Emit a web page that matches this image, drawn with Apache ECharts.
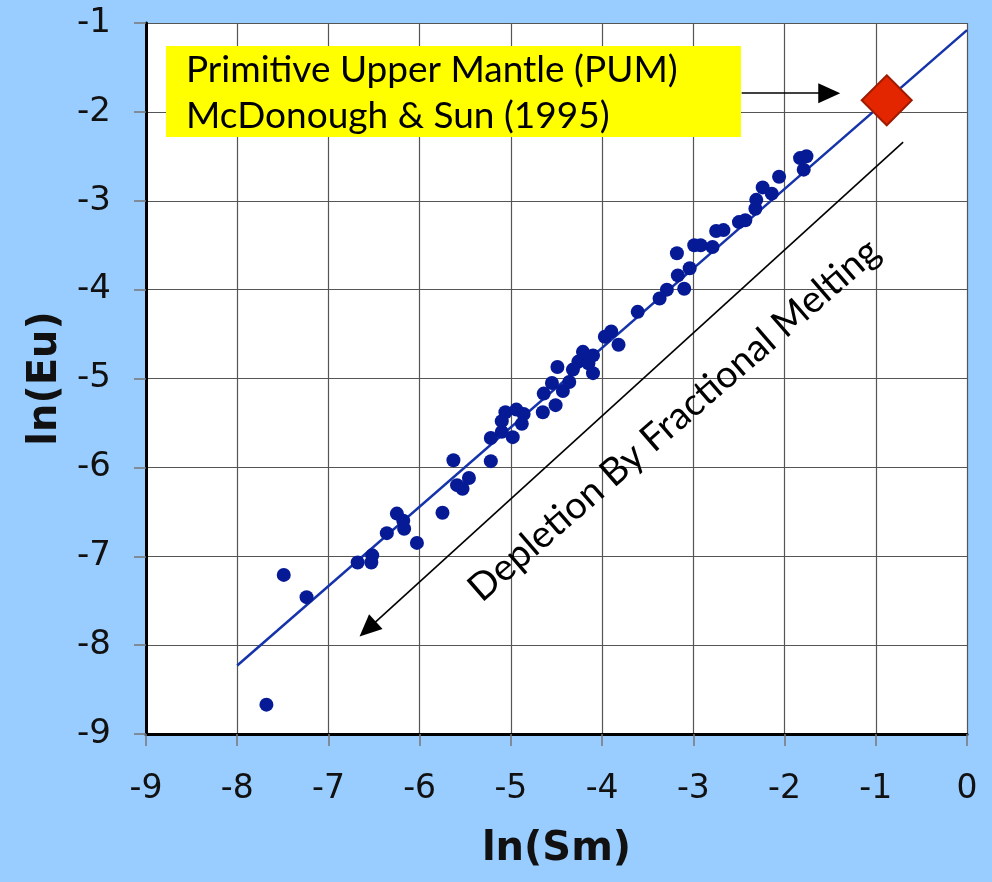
<!DOCTYPE html>
<html>
<head>
<meta charset="utf-8">
<title>ln(Eu) vs ln(Sm)</title>
<script src="https://cdn.jsdelivr.net/npm/echarts@6/dist/echarts.min.js"></script>
<style>
  html, body { margin: 0; padding: 0; background: #99CCFF; }
  #main { width: 992px; height: 882px; }
</style>
</head>
<body>
<div id="main"></div>
<script>
// sample values
var smVals = [-7.68, -7.49, -7.24, -6.68, -6.53, -6.52, -6.36, -6.25, -6.18, -6.17,
  -6.03, -5.75, -5.63, -5.59, -5.53, -5.46, -5.22, -5.22, -5.10, -5.06,
  -4.94, -4.86, -4.88, -4.98, -5.10, -4.65, -4.64, -4.51, -4.55, -4.49,
  -4.43, -4.36, -4.32, -4.26, -4.21, -4.15, -4.10, -4.10, -3.97, -3.90,
  -3.82, -3.61, -3.37, -3.29, -3.17, -3.10, -3.04, -3.18, -2.99, -2.92,
  -2.79, -2.75, -2.67, -2.50, -2.43, -2.32, -2.31, -2.24, -2.14, -2.06,
  -1.83, -1.76, -1.79];
var euVals = [-8.67, -7.21, -7.46, -7.07, -7.07, -6.99, -6.74, -6.52, -6.60, -6.69,
  -6.85, -6.51, -5.92, -6.20, -6.24, -6.12, -5.93, -5.67, -5.60, -5.38,
  -5.35, -5.40, -5.51, -5.66, -5.48, -5.38, -5.17, -5.30, -5.05, -4.87,
  -5.14, -5.04, -4.90, -4.81, -4.70, -4.83, -4.74, -4.94, -4.53, -4.47,
  -4.62, -4.25, -4.10, -4.00, -3.84, -3.99, -3.76, -3.59, -3.50, -3.50,
  -3.52, -3.34, -3.33, -3.24, -3.22, -3.09, -2.99, -2.85, -2.92, -2.73,
  -2.52, -2.50, -2.65];
// trend line ends
var fitSm = [-8, 0];
var fitEu = [-8.23, -1.08];
// primitive upper mantle
var pumSm = [-0.88];
var pumEu = [-1.87];
// arrows (start, end) in data units
var pumArrowSm = [-2.47, -1.51];
var pumArrowEu = [-1.79, -1.79];
var meltArrowSm = [-0.70, -6.57];
var meltArrowEu = [-2.34, -7.82];

var xTicks = [-9, 0];
var yTicks = [-9, -1];

function zip(a, b) {
  return a.map(function (v, i) { return [v, b[i]]; });
}

var labelFont = '"DejaVu Sans", Verdana, sans-serif';
var noteFont = 'Lato, "Open Sans", sans-serif';

var myChart = echarts.init(document.getElementById('main'));

var option = {
  backgroundColor: '#99CCFF',
  animation: false,
  grid: {
    left: 146,
    right: 25,
    top: 23,
    bottom: 148,
    show: true,
    backgroundColor: '#fff',
    borderWidth: 0
  },
  xAxis: {
    type: 'value',
    min: xTicks[0],
    max: xTicks[1],
    interval: 1,
    name: 'ln(Sm)',
    nameLocation: 'middle',
    nameGap: 96,
    nameTextStyle: { fontFamily: labelFont, fontSize: 40, fontWeight: 'bold', color: '#111' },
    axisLine: { onZero: false, lineStyle: { color: '#000', width: 3 } },
    axisTick: { show: true, inside: false, length: 12, lineStyle: { color: '#777', width: 1.5 } },
    splitLine: { show: true, lineStyle: { color: '#555', width: 1.2 } },
    axisLabel: { fontFamily: labelFont, fontSize: 33, color: '#111', margin: 39 }
  },
  yAxis: {
    type: 'value',
    min: yTicks[0],
    max: yTicks[1],
    interval: 1,
    name: 'ln(Eu)',
    nameLocation: 'middle',
    nameRotate: 90,
    nameGap: 80,
    nameTextStyle: { fontFamily: labelFont, fontSize: 40, fontWeight: 'bold', color: '#111' },
    axisLine: { onZero: false, lineStyle: { color: '#000', width: 3 } },
    axisTick: { show: true, inside: false, length: 12, lineStyle: { color: '#777', width: 1.5 } },
    splitLine: { show: true, lineStyle: { color: '#555', width: 1.2 } },
    axisLabel: { fontFamily: labelFont, fontSize: 34, color: '#111', margin: 35 }
  },
  series: [
    {
      name: 'trend',
      type: 'line',
      data: zip(fitSm, fitEu),
      symbol: 'none',
      silent: true,
      lineStyle: { color: '#1533AA', width: 2.5 },
      z: 2,
      markLine: {
        silent: true,
        symbol: ['none', 'triangle'],
        symbolSize: [20, 22],
        label: { show: false },
        lineStyle: { color: '#000', width: 1.6, type: 'solid' },
        data: [
          [{ coord: [pumArrowSm[0], pumArrowEu[0]] }, { coord: [pumArrowSm[1], pumArrowEu[1]] }],
          [{ coord: [meltArrowSm[0], meltArrowEu[0]] }, { coord: [meltArrowSm[1], meltArrowEu[1]] }]
        ]
      }
    },
    {
      name: 'samples',
      type: 'scatter',
      data: zip(smVals, euVals),
      symbolSize: 14,
      itemStyle: { color: '#061A96', opacity: 1 },
      z: 3
    },
    {
      name: 'PUM',
      type: 'scatter',
      data: zip(pumSm, pumEu),
      symbol: 'diamond',
      symbolSize: [50, 50],
      itemStyle: { color: '#E32600', borderColor: '#A01A00', borderWidth: 2, opacity: 1 },
      z: 4
    }
  ],
  graphic: [
    {
      type: 'rect',
      shape: { x: 166, y: 46, width: 575, height: 91 },
      style: { fill: '#FFFF00' },
      z: 10
    },
    {
      type: 'text',
      x: 186,
      y: 70,
      style: {
        text: 'Primitive Upper Mantle (PUM)',
        fontFamily: noteFont,
        fontSize: 37,
        fill: '#000',
        verticalAlign: 'middle'
      },
      z: 11
    },
    {
      type: 'text',
      x: 186,
      y: 116,
      style: {
        text: 'McDonough & Sun (1995)',
        fontFamily: noteFont,
        fontSize: 37,
        fill: '#000',
        verticalAlign: 'middle'
      },
      z: 11
    },
    {
      type: 'text',
      x: 674,
      y: 420,
      rotation: 41 * Math.PI / 180,
      style: {
        text: 'Depletion By Fractional Melting',
        fontFamily: noteFont,
        fontSize: 38,
        fill: '#000',
        align: 'center',
        verticalAlign: 'middle'
      },
      z: 11
    }
  ]
};

myChart.setOption(option);
</script>
</body>
</html>
